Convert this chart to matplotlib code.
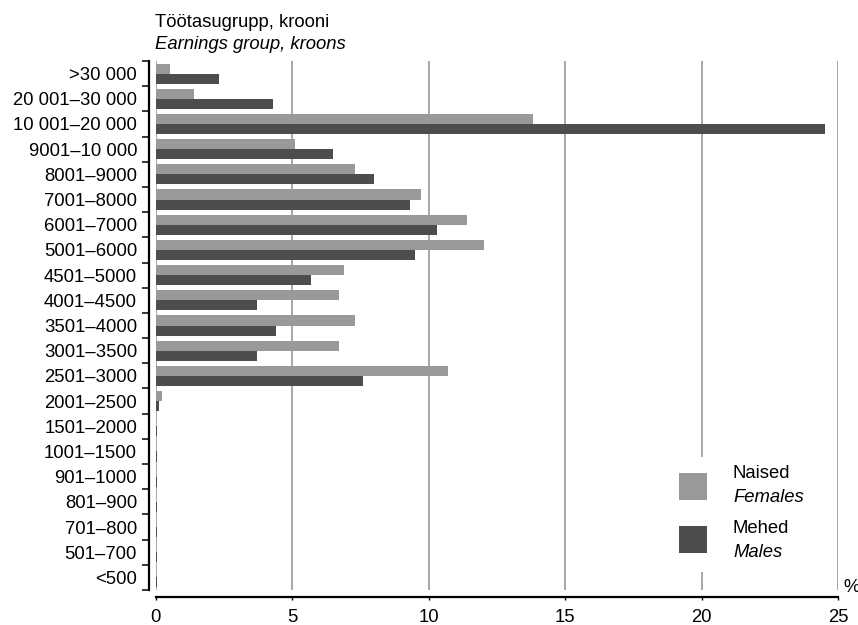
import matplotlib
matplotlib.use("Agg")
import matplotlib.pyplot as plt
from matplotlib.patches import Rectangle
import numpy as np

plt.rcParams['font.family'] = ['Liberation Sans', 'DejaVu Sans']

categories = [">30 000", "20 001–30 000", "10 001–20 000", "9001–10 000", "8001–9000",
              "7001–8000", "6001–7000", "5001–6000", "4501–5000", "4001–4500",
              "3501–4000", "3001–3500", "2501–3000", "2001–2500", "1501–2000",
              "1001–1500", "901–1000", "801–900", "701–800", "501–700", "<500"]
females = [0.52, 1.40, 13.82, 5.10, 7.30, 9.71, 11.40, 12.02, 6.89, 6.71,
           7.30, 6.71, 10.70, 0.23, 0.02, 0.02, 0.02, 0.02, 0.02, 0.02, 0.02]
males = [2.30, 4.29, 24.51, 6.50, 8.00, 9.31, 10.30, 9.49, 5.69, 3.71,
         4.40, 3.71, 7.59, 0.12, 0.03, 0.03, 0.03, 0.03, 0.03, 0.03, 0.03]
xticks = [0, 5, 10, 15, 20, 25]

FS = 13.3
W, H = 858, 625
fig = plt.figure(figsize=(W / 100, H / 100), dpi=100)
x0, x1, ytop, ybot = 155.8, 838.0, 61.0, 590.0
ax = fig.add_axes([x0 / W, (H - ybot) / H, (x1 - x0) / W, (ybot - ytop) / H])

c_f = "#999999"
c_m = "#4d4d4d"
y = np.arange(len(categories))
ax.barh(y - 0.2, females, height=0.4, color=c_f, zorder=3)
ax.barh(y + 0.2, males, height=0.4, color=c_m, zorder=3)

ax.set_xlim(0, 25)
ax.set_ylim(len(categories) - 0.5, -0.5)

for s in ["top", "right"]:
    ax.spines[s].set_visible(False)
ax.spines["left"].set_position(("outward", 5))
ax.spines["left"].set_linewidth(1.6)
ax.spines["bottom"].set_position(("outward", 5))
ax.spines["bottom"].set_linewidth(1.6)
ax.spines["bottom"].set_bounds(0, 25)

ax.set_xticks(xticks)
ax.set_xticklabels([str(v) for v in xticks], fontsize=FS)
ax.tick_params(axis="x", length=2.5, width=1, pad=6.5)

ax.set_yticks(np.arange(len(categories) + 1) - 0.5)
ax.set_yticklabels([])
ax.tick_params(axis="y", which="major", length=5, width=1.1)
ax.set_yticks(y, minor=True)
ax.set_yticklabels(categories, minor=True, fontsize=FS)
ax.tick_params(axis="y", which="minor", length=0, pad=8.5)

ax.grid(axis="x", color="#a0a0a0", linewidth=1.3, zorder=0)
ax.set_axisbelow(True)

fig.text(155 / W, (H - 27) / H, "Töötasugrupp, krooni", fontsize=FS, va="baseline", ha="left")
fig.text(155 / W, (H - 49) / H, "Earnings group, kroons", fontsize=FS, va="baseline", ha="left", style="italic")
fig.text(843 / W, (H - 592) / H, "%", fontsize=FS, va="baseline", ha="left")

# legend
def fx(px):
    return px / W
def fy(py):
    return (H - py) / H

fig.patches.append(Rectangle((fx(668), fy(572)), fx(825) - fx(668), fy(457) - fy(572),
                             transform=fig.transFigure, facecolor="white", edgecolor="none", zorder=5))
fig.patches.append(Rectangle((fx(679), fy(500)), 28 / W, 27 / H, transform=fig.transFigure,
                             facecolor=c_f, edgecolor="none", zorder=6))
fig.patches.append(Rectangle((fx(679), fy(553)), 28 / W, 27 / H, transform=fig.transFigure,
                             facecolor=c_m, edgecolor="none", zorder=6))
fig.text(fx(733), fy(478), "Naised", fontsize=FS, va="baseline", zorder=7)
fig.text(fx(733), fy(502), "Females", fontsize=FS, va="baseline", style="italic", zorder=7)
fig.text(fx(733), fy(533), "Mehed", fontsize=FS, va="baseline", zorder=7)
fig.text(fx(733), fy(557), "Males", fontsize=FS, va="baseline", style="italic", zorder=7)

fig.savefig("out.png", dpi=100)
